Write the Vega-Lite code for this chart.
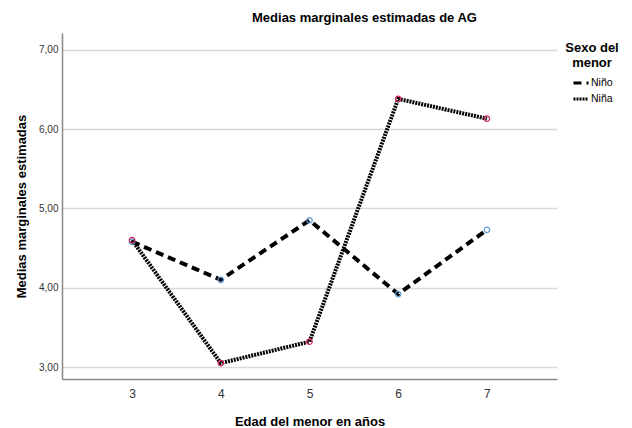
{
  "$schema": "https://vega.github.io/schema/vega-lite/v6.json",
  "autosize": {"type": "none"},
  "padding": {"left": 62, "top": 33, "right": 75, "bottom": 49},
  "width": 495,
  "height": 346,
  "background": "white",
  "title": {
    "text": "Medias marginales estimadas de AG",
    "font": "Liberation Sans",
    "fontSize": 13,
    "fontWeight": "bold",
    "color": "#000000",
    "anchor": "middle",
    "frame": "group",
    "dx": 55,
    "offset": 8
  },
  "config": {
    "view": {"stroke": null},
    "font": "Liberation Sans"
  },
  "data": {
    "values": [
      {"edad": "3", "sexo": "Niño", "media": 4.58},
      {"edad": "4", "sexo": "Niño", "media": 4.10},
      {"edad": "5", "sexo": "Niño", "media": 4.85},
      {"edad": "6", "sexo": "Niño", "media": 3.92},
      {"edad": "7", "sexo": "Niño", "media": 4.73},
      {"edad": "3", "sexo": "Niña", "media": 4.60},
      {"edad": "4", "sexo": "Niña", "media": 3.05},
      {"edad": "5", "sexo": "Niña", "media": 3.32},
      {"edad": "6", "sexo": "Niña", "media": 6.38},
      {"edad": "7", "sexo": "Niña", "media": 6.13}
    ]
  },
  "encoding": {
    "x": {
      "field": "edad",
      "type": "ordinal",
      "scale": {"type": "point", "padding": 0.79},
      "axis": {
        "title": "Edad del menor en años",
        "titleFont": "Liberation Sans",
        "titleFontSize": 13,
        "titleFontWeight": "bold",
        "titleColor": "#000000",
        "titlePadding": 16,
        "labelAngle": 0,
        "labelFontSize": 12,
        "labelColor": "#333333",
        "labelPadding": 9,
        "ticks": false,
        "domainColor": "#888888",
        "domainWidth": 1.5,
        "grid": false
      }
    },
    "y": {
      "field": "media",
      "type": "quantitative",
      "scale": {"domain": [2.85, 7.21], "nice": false, "zero": false},
      "axis": {
        "title": "Medias marginales estimadas",
        "titleFont": "Liberation Sans",
        "titleFontSize": 13,
        "titleFontWeight": "bold",
        "titleColor": "#000000",
        "titlePadding": 10,
        "values": [3, 4, 5, 6, 7],
        "labelExpr": "replace(format(datum.value, '.2f'), '.', ',')",
        "labelFontSize": 10,
        "labelColor": "#333333",
        "labelPadding": 4,
        "ticks": false,
        "domainColor": "#888888",
        "domainWidth": 1.5,
        "grid": true,
        "gridColor": "#d9d9d9",
        "gridWidth": 1.5
      }
    }
  },
  "layer": [
    {
      "mark": {"type": "line", "color": "#000000", "strokeWidth": 4},
      "encoding": {
        "strokeDash": {
          "field": "sexo",
          "type": "nominal",
          "scale": {"domain": ["Niño", "Niña"], "range": [[8, 5], [2, 1]]},
          "legend": {
            "title": ["Sexo del", "menor"],
            "titleFont": "Liberation Sans",
            "titleFontSize": 13,
            "titleFontWeight": "bold",
            "titleColor": "#000000",
            "titleAlign": "center",
            "titleAnchor": "middle",
            "titleLineHeight": 15,
            "titlePadding": 4,
            "labelFontSize": 10.5,
            "labelColor": "#000000",
            "labelOffset": 1,
            "symbolType": "stroke",
            "symbolStrokeWidth": 3,
            "symbolStrokeColor": "#000000",
            "symbolSize": 225,
            "rowPadding": 1,
            "orient": "none",
            "legendX": 503,
            "legendY": 9
          }
        }
      }
    },
    {
      "mark": {"type": "point", "shape": "circle", "filled": false, "size": 30, "strokeWidth": 1.2, "opacity": 1},
      "encoding": {
        "stroke": {
          "condition": {"test": "datum.sexo === 'Niño'", "value": "#5b9bd5"},
          "value": "#d6245a"
        }
      }
    }
  ]
}
